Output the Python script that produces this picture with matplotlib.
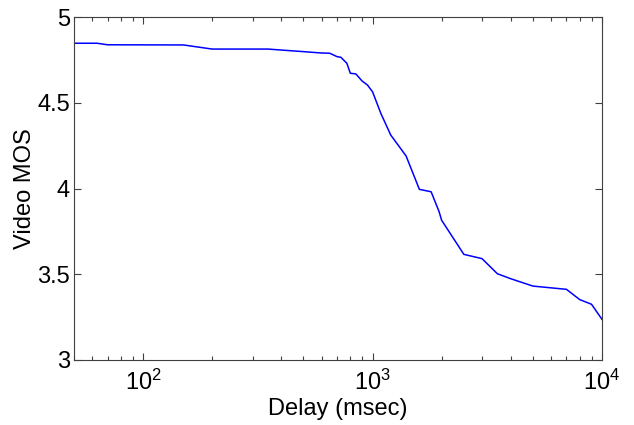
import matplotlib
matplotlib.use("Agg")
import matplotlib.pyplot as plt
from matplotlib.ticker import LogLocator, FixedLocator

delay_ms = [50, 63, 70, 150, 200, 350, 500, 600, 650, 700, 728, 773, 800, 846, 900, 951,
            1000, 1087, 1200, 1400, 1600, 1800, 1950, 2000, 2500, 3000, 3500, 4000,
            5000, 7000, 8000, 9000, 10000]
video_mos = [4.847, 4.847, 4.838, 4.837, 4.813, 4.813, 4.798, 4.790, 4.789, 4.769, 4.765,
             4.730, 4.672, 4.668, 4.627, 4.603, 4.564, 4.438, 4.312, 4.190, 3.995,
             3.981, 3.865, 3.815, 3.616, 3.591, 3.503, 3.474, 3.431, 3.412, 3.352,
             3.325, 3.237]
y_ticks = [3, 3.5, 4, 4.5, 5]
y_tick_labels = ["3", "3.5", "4", "4.5", "5"]
x_ticks = [100, 1000, 10000]
x_tick_labels = [r'$\mathdefault{10^{2}}$', r'$\mathdefault{10^{3}}$', r'$\mathdefault{10^{4}}$']

plt.rcParams['font.family'] = ['Liberation Sans', 'DejaVu Sans']
plt.rcParams['mathtext.fontset'] = 'custom'
plt.rcParams['mathtext.rm'] = 'Liberation Sans'
plt.rcParams['mathtext.it'] = 'Liberation Sans'

fig = plt.figure(figsize=(6.34, 4.25), dpi=100)
ax = fig.add_axes([74/634, 1-360/425, (602-74)/634, (360-17)/425])
ax.plot(delay_ms, video_mos, color=(0, 0, 1), linewidth=1.1)
ax.set_xscale('log')
ax.set_xlim(50, 10000)
ax.set_ylim(3, 5)
ax.set_yticks(y_ticks)
ax.set_yticklabels(y_tick_labels)
ax.xaxis.set_major_locator(FixedLocator(x_ticks))
ax.xaxis.set_minor_locator(LogLocator(base=10, subs=range(2, 10)))
ax.set_xticks(x_ticks)
ax.set_xticklabels(x_tick_labels)
ax.tick_params(which='both', direction='in', top=True, right=True, colors='#404040',
               labelcolor='black', labelsize=17)
ax.tick_params(which='major', length=5, width=0.8)
ax.tick_params(which='minor', length=3, width=0.8)
ax.tick_params(axis='x', pad=7)
ax.tick_params(axis='y', pad=3)
for s in ax.spines.values():
    s.set_color('#404040')
    s.set_linewidth(0.8)
ax.set_xlabel('Delay (msec)', fontsize=17, labelpad=2)
ax.set_ylabel('Video MOS', fontsize=17, labelpad=1)
fig.savefig('out.png', dpi=100)
